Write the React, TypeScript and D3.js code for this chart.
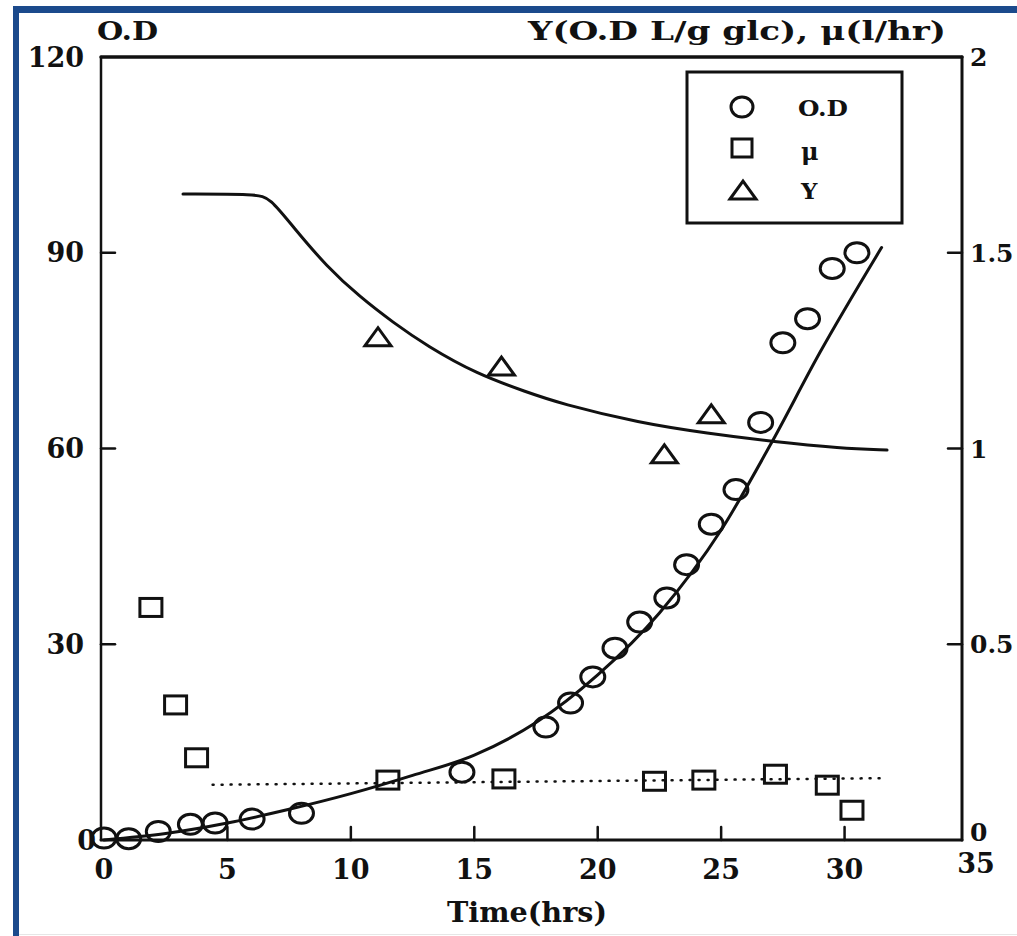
import React from 'react';
import * as d3 from 'd3';

// time (hrs) vs O.D
const odTime = [0, 1.0, 2.2, 3.5, 4.5, 6.0, 8.0, 14.5, 17.9, 18.9, 19.8, 20.7, 21.7, 22.8, 23.6, 24.6, 25.6, 26.6, 27.5, 28.5, 29.5, 30.5];
const odValue = [0.3, 0.2, 1.3, 2.4, 2.6, 3.2, 4.1, 10.4, 17.3, 21.0, 25.0, 29.4, 33.4, 37.1, 42.2, 48.4, 53.7, 64.0, 76.2, 79.9, 87.6, 90.0];

// mu (1/hr), right axis
const muTime = [1.9, 2.9, 3.75, 11.5, 16.2, 22.3, 24.3, 27.2, 29.3, 30.3];
const muValue = [0.594, 0.345, 0.21, 0.153, 0.156, 0.15, 0.153, 0.168, 0.14, 0.076];

// Y (O.D L/g glc), right axis
const yTime = [11.1, 16.1, 22.7, 24.6];
const yValue = [1.283, 1.208, 0.984, 1.086];

// model curves
const odFitTime = [0, 2.5, 5, 7.5, 10, 12.5, 15, 17.5, 20, 22.5, 25, 27, 29, 31.5];
const odFitValue = [0, 1.0, 2.6, 4.7, 7.1, 9.9, 13.0, 18.0, 25.3, 34.8, 47.5, 60.6, 74.7, 90.8];
const yFitTime = [3.2, 6.2, 6.72, 7.66, 9.03, 10.37, 11.71, 13.08, 15.11, 17.13, 18.47, 21.71, 24.43, 27.18, 29.81, 31.72];
const yFitValue = [1.65, 1.65, 1.64, 1.566, 1.464, 1.387, 1.322, 1.262, 1.19, 1.144, 1.115, 1.065, 1.039, 1.017, 1.001, 0.996];
const muMeanTime = [4.4, 31.6];
const muMeanValue = [0.141, 0.158];

const xTicks = [0, 5, 10, 15, 20, 25, 30, 35];
const leftTicks = [0, 30, 60, 90, 120];
const rightTicks = [0, 0.5, 1, 1.5, 2];
const rightTickLabels = ['0', '0.5', '1', '1.5', '2'];

const font = "'DejaVu Serif', 'Liberation Serif', serif";

export default function App() {
  const W = 1017;
  const H = 936;
  const left = 101;
  const right = 962;
  const top = 57;
  const bottom = 840;

  const x = d3.scaleLinear().domain([0, 35]).range([104, 968]);
  const yL = d3.scaleLinear().domain([0, 120]).range([bottom, top]);
  const yR = d3.scaleLinear().domain([0, 2]).range([bottom, top]);

  const odLine = d3
    .line<number>()
    .x((t) => x(t))
    .y((_, i) => yL(odFitValue[i]))
    .curve(d3.curveMonotoneX);
  const yLine = d3
    .line<number>()
    .x((t) => x(t))
    .y((_, i) => yR(yFitValue[i]))
    .curve(d3.curveBasis);
  const muLine = d3
    .line<number>()
    .x((t) => x(t))
    .y((_, i) => yR(muMeanValue[i]));

  const tri = (cx: number, cy: number) =>
    `M${cx - 13},${cy + 8} L${cx},${cy - 10} L${cx + 13},${cy + 8} Z`;

  return (
    <svg
      width={W}
      height={H}
      style={{ position: 'absolute', left: 0, top: 0, background: '#fff' }}
    >
      {/* scan border */}
      <rect x={13} y={6} width={6} height={H - 6} fill="#1b4a8c" />
      <rect x={13} y={6} width={W - 13} height={7} fill="#1b4a8c" />
      <line x1={19} x2={W} y1={934.5} y2={934.5} stroke="#e6e6e6" strokeWidth={1} />

      <g fill="none" stroke="#111" strokeLinecap="round">
        {/* frame */}
        <line x1={left} x2={right} y1={top} y2={top} strokeWidth={3.5} />
        <line x1={left} x2={left} y1={top} y2={bottom} strokeWidth={2.5} />
        <line x1={right} x2={right} y1={top} y2={bottom} strokeWidth={3} />
        <line x1={left} x2={right} y1={bottom} y2={bottom} strokeWidth={3} />

        {xTicks.filter((t) => t > 0 && t < 35).map((t) => (
          <line key={'xt' + t} x1={x(t)} x2={x(t)} y1={bottom} y2={bottom - 13} strokeWidth={2.5} />
        ))}
        {leftTicks.filter((t) => t > 0 && t < 120).map((t) => (
          <line key={'lt' + t} x1={left} x2={left + 14} y1={yL(t)} y2={yL(t)} strokeWidth={2.5} />
        ))}
        {rightTicks.filter((t) => t > 0 && t < 2).map((t) => (
          <line key={'rt' + t} x1={right - 14} x2={right} y1={yR(t)} y2={yR(t)} strokeWidth={2.5} />
        ))}

        {/* curves */}
        <path d={yLine(yFitTime) || ''} strokeWidth={3} />
        <path d={odLine(odFitTime) || ''} strokeWidth={3} />
        <path d={muLine(muMeanTime) || ''} strokeWidth={2.5} strokeDasharray="1 8" />

        {/* markers */}
        {odTime.map((t, i) => (
          <ellipse key={'od' + i} cx={x(t)} cy={yL(odValue[i])} rx={12} ry={10} strokeWidth={3} />
        ))}
        {muTime.map((t, i) => (
          <rect key={'mu' + i} x={x(t) - 11} y={yR(muValue[i]) - 9} width={22} height={18} strokeWidth={3} strokeLinejoin="miter" />
        ))}
        {yTime.map((t, i) => (
          <path key={'y' + i} d={tri(x(t), yR(yValue[i]))} strokeWidth={3} strokeLinejoin="miter" />
        ))}

        {/* legend */}
        <rect x={687} y={72} width={215} height={151} strokeWidth={3} />
        <ellipse cx={742} cy={107} rx={11} ry={10} strokeWidth={3} />
        <rect x={732} y={139} width={20} height={18} strokeWidth={3} strokeLinejoin="miter" />
        <path d={tri(743, 191)} strokeWidth={3} strokeLinejoin="miter" />
      </g>

      <g fill="#111" fontFamily={font} fontWeight="bold">
        <text x={798} y={116} fontSize={23} textLength={50} lengthAdjust="spacingAndGlyphs">O.D</text>
        <text x={801} y={160} fontSize={24}>μ</text>
        <text x={801} y={199} fontSize={23}>Y</text>

        <text x={97} y={40} fontSize={26} textLength={61} lengthAdjust="spacingAndGlyphs">O.D</text>
        <text x={528} y={40} fontSize={26} textLength={418} lengthAdjust="spacingAndGlyphs">
          Y(O.D L/g glc), μ(l/hr)
        </text>

        {leftTicks.map((t) => (
          <text key={'ll' + t} x={t === 0 ? 96 : 84} y={yL(t)} dy="0.36em" fontSize={27} textAnchor="end">
            {t}
          </text>
        ))}
        {rightTicks.map((t, i) => (
          <text key={'rl' + t} x={970} y={yR(t) - (t === 0 ? 8 : 0)} dy="0.36em" fontSize={25}>
            {rightTickLabels[i]}
          </text>
        ))}
        {xTicks.map((t) => (
          <text key={'xl' + t} x={x(t) + (t === 35 ? 8 : 0)} y={t === 35 ? 863 : 869} dy="0.36em" fontSize={27} textAnchor="middle">
            {t}
          </text>
        ))}
        <text x={527} y={922} fontSize={27} textAnchor="middle" textLength={160} lengthAdjust="spacingAndGlyphs">
          Time(hrs)
        </text>
      </g>
    </svg>
  );
}
